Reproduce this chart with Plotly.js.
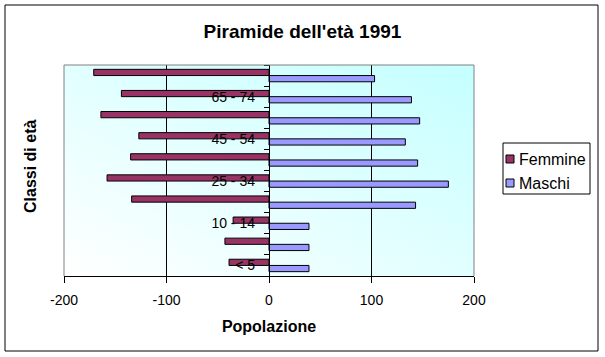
<!DOCTYPE html>
<html>
<head>
<meta charset="utf-8">
<script src="https://cdn.plot.ly/plotly-3.0.1.min.js"></script>
<style>html,body{margin:0;padding:0;background:#fff;}#chart{width:605px;height:357px;}</style>
</head>
<body>
<div id="chart"></div>
<script>
const categories = ["< 5", "5 - 9", "10 - 14", "15 - 24", "25 - 34", "35 - 44", "45 - 54", "55 - 64", "65 - 74", "> 75"];
const femmine = [-39, -43, -35, -134, -158, -135, -127, -164, -144, -171];
const maschi = [39, 39, 39, 143, 175, 145, 133, 147, 139, 103];
const xTicks = [-200, -100, 0, 100, 200];
const seriesNames = ["Femmine", "Maschi"];
const labelEvery = 2;

const idx = categories.map((c, i) => i);
const boundaries = categories.map((c, i) => i - 0.5).concat([categories.length - 0.5]);
const labelVals = idx.filter(i => i % labelEvery === 0);
const labelText = labelVals.map(i => categories[i]);

const font = "'Liberation Sans', Arial, sans-serif";
const colors = {Femmine: '#993366', Maschi: '#9999FF'};

// plot-area pixel geometry -> paper fractions
const L = 64, W = 410, B = 276, H = 211;
const px = v => (v - L) / W;
const py = v => (B - v) / H;

const gradSvg = '<svg xmlns="http://www.w3.org/2000/svg" width="100" height="100" preserveAspectRatio="none">' +
  '<defs><linearGradient id="g" x1="0" y1="1" x2="1" y2="0">' +
  '<stop offset="0" stop-color="#ffffff"/><stop offset="1" stop-color="#c4ffff"/></linearGradient></defs>' +
  '<rect width="100" height="100" fill="url(#g)"/></svg>';

const traces = [
  {type: 'bar', orientation: 'h', name: seriesNames[1], y: idx, x: maschi,
   marker: {color: colors.Maschi, line: {color: '#000', width: 1}}, hoverinfo: 'x'},
  {type: 'bar', orientation: 'h', name: seriesNames[0], y: idx, x: femmine,
   marker: {color: colors.Femmine, line: {color: '#000', width: 1}}, hoverinfo: 'x'},
  {type: 'scatter', x: [null], y: [null], yaxis: 'y2', showlegend: false, hoverinfo: 'skip'}
];

// legend drawn as box + swatches + text
const legendShapes = [
  {type: 'rect', xref: 'paper', yref: 'paper', x0: px(503), x1: px(590), y0: py(194), y1: py(143),
   line: {color: '#000', width: 1}, fillcolor: '#fff', layer: 'above'}
];
const legendAnn = [];
seriesNames.forEach((n, i) => {
  const cy = 159 + i * 24;
  legendShapes.push({type: 'rect', xref: 'paper', yref: 'paper', x0: px(506), x1: px(514), y0: py(cy + 4), y1: py(cy - 4),
    line: {color: '#000', width: 1}, fillcolor: colors[n], layer: 'above'});
  legendAnn.push({text: n, xref: 'paper', yref: 'paper', x: px(517), y: py(cy), xanchor: 'left', yanchor: 'middle',
    showarrow: false, font: {family: font, size: 16, color: '#000'}});
});

const layout = {
  width: 605, height: 357,
  margin: {l: L, r: 605 - L - W, t: B - H, b: 357 - B, pad: 0, autoexpand: false},
  paper_bgcolor: '#ffffff', plot_bgcolor: 'rgba(0,0,0,0)',
  font: {family: font, size: 14, color: '#000'},
  title: {text: "Piramide dell'età 1991", font: {family: font, size: 19, color: '#000', weight: 'bold'},
          x: 0.5, xref: 'container', y: 1 - 31 / 357, yref: 'container', yanchor: 'middle', xanchor: 'center'},
  barmode: 'group', bargap: 0.41, bargroupgap: 0,
  showlegend: false,
  xaxis: {range: [-200, 200], tickmode: 'array', tickvals: xTicks, ticktext: xTicks.map(String),
          ticks: 'outside', ticklen: 6, tickcolor: '#000', tickwidth: 1,
          showline: true, linecolor: '#000', linewidth: 1,
          showgrid: true, gridcolor: '#000', gridwidth: 1, zeroline: false,
          ticklabelstandoff: 5,
          tickfont: {family: font, size: 14, color: '#000'},
          title: {text: 'Popolazione', font: {family: font, size: 16, color: '#000', weight: 'bold'}, standoff: 14},
          fixedrange: true},
  yaxis: {range: [-0.5, categories.length - 0.5], anchor: 'free', position: 0.5,
          tickmode: 'array', tickvals: boundaries, ticktext: boundaries.map(() => ''),
          ticks: 'outside', ticklen: 5, tickcolor: '#000', tickwidth: 1,
          showline: true, linecolor: '#000', linewidth: 1,
          showgrid: false, zeroline: false, fixedrange: true},
  yaxis2: {range: [-0.5, categories.length - 0.5], overlaying: 'y', anchor: 'free', position: 0.5, side: 'left',
           tickmode: 'array', tickvals: labelVals, ticktext: labelText,
           ticks: '', showline: false, showgrid: false, zeroline: false,
           ticklabelstandoff: 14,
           tickfont: {family: font, size: 14, color: '#000'}, fixedrange: true},
  images: [{source: 'data:image/svg+xml;charset=utf-8,' + encodeURIComponent(gradSvg),
            xref: 'paper', yref: 'paper', x: 0, y: 1, sizex: 1, sizey: 1,
            sizing: 'stretch', layer: 'below', xanchor: 'left', yanchor: 'top'}],
  shapes: [
    {type: 'path', xref: 'paper', yref: 'paper', path: 'M0,0 L0,1 L1,1 L1,0',
     line: {color: '#808080', width: 1}, layer: 'above'},
    {type: 'rect', xref: 'paper', yref: 'paper',
     x0: px(5), x1: px(598), y0: py(351), y1: py(5),
     line: {color: '#000', width: 1}, fillcolor: 'rgba(0,0,0,0)', layer: 'above'}
  ].concat(legendShapes),
  annotations: [{text: 'Classi di età', xref: 'paper', yref: 'paper',
                 x: px(30), y: py(167), textangle: -90, showarrow: false,
                 xanchor: 'center', yanchor: 'middle',
                 font: {family: font, size: 16, color: '#000', weight: 'bold'}}].concat(legendAnn)
};

Plotly.newPlot('chart', traces, layout, {staticPlot: true, displayModeBar: false});
</script>
</body>
</html>
